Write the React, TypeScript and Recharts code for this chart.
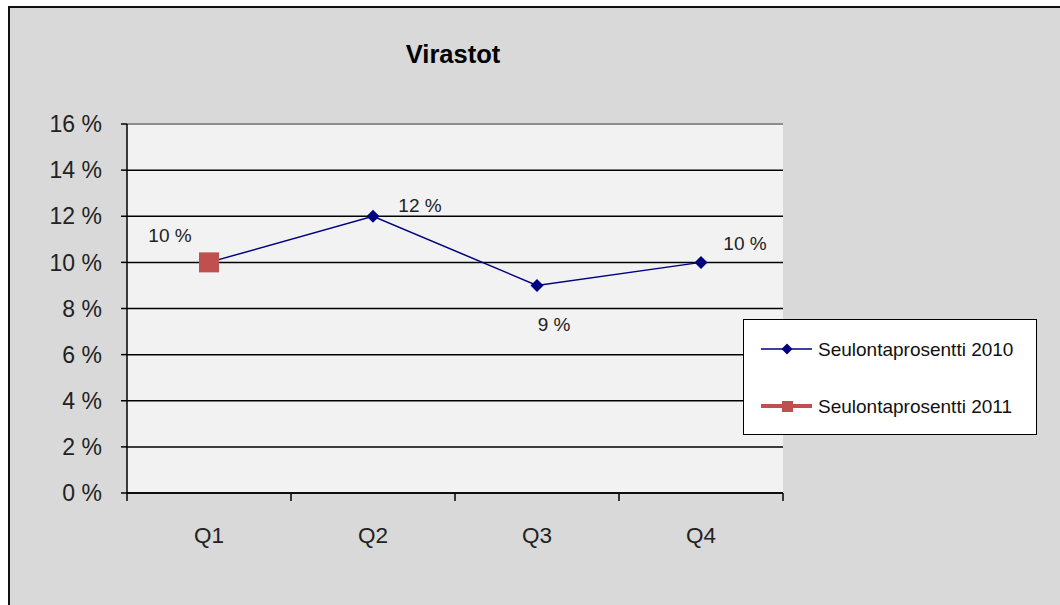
import {
  LineChart,
  Line,
  XAxis,
  YAxis,
  CartesianGrid,
  Legend,
  LabelList,
  ReferenceLine,
} from "recharts";

const quarters = ["Q1", "Q2", "Q3", "Q4"];
const rate2010 = [10, 12, 9, 10];
const rate2011 = [10, null, null, null];
const yTicks = [0, 2, 4, 6, 8, 10, 12, 14, 16];

const NAVY = "#000080";
const RED = "#c0504d";
const FONT = "'Liberation Sans', Arial, sans-serif";
const HALF_BAND = 82;

// hand-placed data labels, the way they sit in the original sheet
const labelOffsets = [
  { dx: -39, dy: -27 },
  { dx: 47, dy: -11 },
  { dx: 17, dy: 39 },
  { dx: 44, dy: -19 },
];

const data = quarters.map((q, i) => ({
  q,
  r2010: rate2010[i],
  r2011: rate2011[i],
}));

function Diamond({ cx, cy, size = 6.5 }: any) {
  if (cx == null || cy == null) return null;
  return (
    <polygon
      points={`${cx},${cy - size} ${cx + size},${cy} ${cx},${cy + size} ${cx - size},${cy}`}
      fill={NAVY}
    />
  );
}

function Square({ cx, cy, payload }: any) {
  if (cx == null || cy == null || payload?.r2011 == null) return null;
  return <rect x={cx - 10} y={cy - 10} width={20} height={20} fill={RED} />;
}

function QuarterTick(props: any) {
  const { x, y, payload, index } = props;
  const last = index === quarters.length - 1;
  return (
    <g>
      <line x1={x - HALF_BAND} y1={y} x2={x - HALF_BAND} y2={y + 8} stroke="#000" strokeWidth={1.5} />
      {last && (
        <line x1={x + HALF_BAND} y1={y} x2={x + HALF_BAND} y2={y + 8} stroke="#000" strokeWidth={1.5} />
      )}
      <text
        x={x}
        y={y + 42}
        textAnchor="middle"
        dominantBaseline="central"
        fontSize={22.5}
        fill="#222"
        fontFamily={FONT}
      >
        {payload.value}
      </text>
    </g>
  );
}

function PointLabel({ x, y, value, index }: any) {
  const o = labelOffsets[index] || { dx: 0, dy: -20 };
  return (
    <text
      x={x + o.dx}
      y={y + o.dy}
      textAnchor="middle"
      dominantBaseline="central"
      fontSize={19}
      fill="#222"
      fontFamily={FONT}
    >
      {`${value} %`}
    </text>
  );
}

function LegendBox({ payload }: any) {
  const items = payload || [];
  return (
    <div
      style={{
        width: 294,
        height: 116,
        boxSizing: "border-box",
        background: "#fff",
        border: "1.5px solid #000",
      }}
    >
      <svg width={291} height={113} style={{ display: "block" }}>
        {items.map((it: any, i: number) => {
          const cy = 29 + i * 57;
          const is2011 = it.dataKey === "r2011";
          return (
            <g key={it.value}>
              <line
                x1={17}
                x2={68}
                y1={cy}
                y2={cy}
                stroke={it.color}
                strokeWidth={is2011 ? 4 : 1.5}
              />
              {is2011 ? (
                <rect x={38} y={cy - 5} width={11} height={11} fill={RED} />
              ) : (
                <Diamond cx={43} cy={cy} size={5.5} />
              )}
              <text
                x={74}
                y={cy}
                dominantBaseline="central"
                fontSize={19}
                fill="#111"
                fontFamily={FONT}
              >
                {it.value}
              </text>
            </g>
          );
        })}
      </svg>
    </div>
  );
}

export default function App() {
  return (
    <div
      style={{
        position: "absolute",
        left: 0,
        top: 0,
        width: 1060,
        height: 605,
        background: "#fff",
        overflow: "hidden",
        fontFamily: FONT,
      }}
    >
      <div
        style={{
          position: "absolute",
          left: 8,
          top: 6,
          width: 1070,
          height: 610,
          background: "#d9d9d9",
          borderLeft: "2px solid #111",
          borderTop: "2px solid #111",
        }}
      />
      <div
        style={{
          position: "absolute",
          left: 353,
          top: 42,
          width: 200,
          textAlign: "center",
          fontSize: 25.5,
          lineHeight: "25px",
          fontWeight: "bold",
          color: "#000",
        }}
      >
        Virastot
      </div>
      <div style={{ position: "absolute", left: 0, top: 0 }}>
        <LineChart
          width={1060}
          height={605}
          data={data}
          margin={{ top: 124, right: 277, bottom: 52, left: 0 }}
        >
          <CartesianGrid vertical={false} stroke="#000" strokeWidth={1.5} fill="#f2f2f2" />
          <ReferenceLine y={16} stroke="#8c8c8c" strokeWidth={2} />
          <XAxis
            dataKey="q"
            height={60}
            padding={{ left: HALF_BAND, right: HALF_BAND }}
            axisLine={{ stroke: "#000", strokeWidth: 1.5 }}
            tickLine={false}
            tickSize={0}
            tickMargin={0}
            tick={<QuarterTick />}
            interval={0}
          />
          <YAxis
            width={127}
            domain={[0, 16]}
            ticks={yTicks}
            interval={0}
            tickFormatter={(v) => `${v} %`}
            axisLine={{ stroke: "#000", strokeWidth: 1.5 }}
            tickLine={{ stroke: "#000", strokeWidth: 1.5 }}
            tickSize={6}
            tickMargin={19}
            tick={{ fontSize: 23, fill: "#222", fontFamily: FONT }}
          />
          <Legend
            layout="vertical"
            align="center"
            verticalAlign="middle"
            wrapperStyle={{ left: 743, top: 319, width: 294, height: 116 }}
            content={<LegendBox />}
          />
          <Line
            dataKey="r2010"
            name="Seulontaprosentti 2010"
            stroke={NAVY}
            strokeWidth={1.5}
            dot={<Diamond />}
            activeDot={false}
            isAnimationActive={false}
          >
            <LabelList dataKey="r2010" content={<PointLabel />} />
          </Line>
          <Line
            dataKey="r2011"
            name="Seulontaprosentti 2011"
            stroke={RED}
            strokeWidth={4}
            dot={<Square />}
            activeDot={false}
            isAnimationActive={false}
          />
        </LineChart>
      </div>
    </div>
  );
}
